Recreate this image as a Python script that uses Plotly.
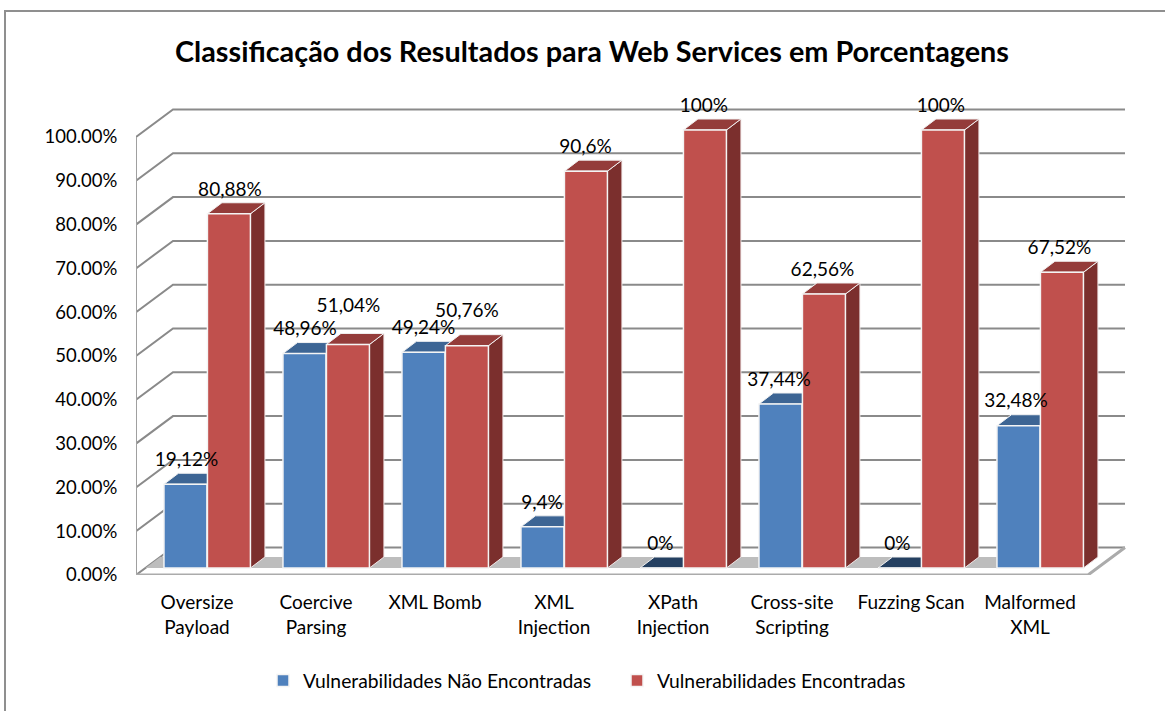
import plotly.graph_objects as go

# ---------- data ----------
categories = ["Oversize<br>Payload", "Coercive<br>Parsing", "XML Bomb", "XML<br>Injection",
              "XPath<br>Injection", "Cross-site<br>Scripting", "Fuzzing Scan", "Malformed<br>XML"]
nao_encontradas = [19.12, 48.96, 49.24, 9.4, 0, 37.44, 0, 32.48]
encontradas = [80.88, 51.04, 50.76, 90.6, 100, 62.56, 100, 67.52]
y_ticks = [0, 10, 20, 30, 40, 50, 60, 70, 80, 90, 100]
y_tick_labels = ["0.00%", "10.00%", "20.00%", "30.00%", "40.00%", "50.00%",
                 "60.00%", "70.00%", "80.00%", "90.00%", "100.00%"]
series_names = ["Vulnerabilidades Não Encontradas", "Vulnerabilidades Encontradas"]
title = "Classificação dos Resultados para Web Services em Porcentagens"

# ---------- layout geometry ----------
W, H = 1165, 711
LEFT, RIGHT, FLOOR, TOP = 136, 1130, 575, 80
PX_CAT, PX_PCT = 119.0, 4.38
FONT = "Lato"
WALL_DX, WALL_DY = 37 / PX_CAT, 27.5 / PX_PCT     # depth of the chart box
BAR_DX, BAR_DY = 14.5 / PX_CAT, 11 / PX_PCT       # depth of one bar
BAR_BASE = 7 / PX_PCT                             # bars stand a little behind the front edge
BAR_W = 43 / PX_CAT
SHIFT = [-0.0844, 0.2809]
COLORS = ["#4F81BD", "#C0504D"]
TOPS = ["#3D6594", "#943C3A"]
SIDES = ["#345478", "#7B2F2D"]
ZERO_TOP = "#254061"
GRID = "#8A8A8A"
X0 = -0.5
X1 = X0 + len(categories)

fig = go.Figure()

# back wall + left wall gridlines
gx, gy = [], []
for t in y_ticks:
    gx += [X0, X0 + WALL_DX, X1 + WALL_DX, None]
    gy += [t, t + WALL_DY, t + WALL_DY, None]
fig.add_trace(go.Scatter(x=gx, y=gy, mode="lines", line=dict(color=GRID, width=2), hoverinfo="skip",
                         showlegend=False, cliponaxis=False, zorder=0))
# left wall vertical edge
fig.add_trace(go.Scatter(x=[X0, X0], y=[y_ticks[0], y_ticks[-1]], mode="lines",
                         line=dict(color="#A0A0A0", width=2), hoverinfo="skip",
                         showlegend=False, cliponaxis=False, zorder=0))
# floor outline
fig.add_trace(go.Scatter(x=[X0, X1, X1 + WALL_DX], y=[0, 0, WALL_DY], mode="lines",
                         line=dict(color="#ABABAB", width=3), hoverinfo="skip",
                         showlegend=False, cliponaxis=False, zorder=0))
# shadow band on the floor
band_end = len(categories) - 1 + SHIFT[1] + BAR_W / 2
d1, d2 = BAR_BASE / WALL_DY, (BAR_BASE + BAR_DY) / WALL_DY
fig.add_trace(go.Scatter(x=[X0 + d1 * WALL_DX, band_end, band_end + BAR_DX, X0 + d2 * WALL_DX, X0 + d1 * WALL_DX],
                         y=[BAR_BASE, BAR_BASE, BAR_BASE + BAR_DY, BAR_BASE + BAR_DY, BAR_BASE],
                         mode="lines", fill="toself", fillcolor="#BDBDBD", line=dict(width=0),
                         hoverinfo="skip", showlegend=False, zorder=1))

for s, vals in enumerate([nao_encontradas, encontradas]):
    z = 2 + 2 * s
    xs = [i + SHIFT[s] for i in range(len(categories))]
    for x, v in zip(xs, vals):
        l, r = x - BAR_W / 2, x + BAR_W / 2
        t = v + BAR_BASE
        # side face
        fig.add_trace(go.Scatter(x=[r, r + BAR_DX, r + BAR_DX, r, r],
                                 y=[BAR_BASE, BAR_BASE + BAR_DY, t + BAR_DY, t, BAR_BASE],
                                 mode="lines", fill="toself", fillcolor=SIDES[s],
                                 line=dict(color="#F2E9E9", width=1), hoverinfo="skip",
                                 showlegend=False, zorder=z))
        # top face
        fig.add_trace(go.Scatter(x=[l, r, r + BAR_DX, l + BAR_DX, l],
                                 y=[t, t, t + BAR_DY, t + BAR_DY, t],
                                 mode="lines", fill="toself",
                                 fillcolor=ZERO_TOP if v == 0 else TOPS[s],
                                 line=dict(color="#F2F2F2", width=1), hoverinfo="skip",
                                 showlegend=False, zorder=z))
    # front faces
    fig.add_trace(go.Bar(x=xs, y=vals, base=BAR_BASE, width=BAR_W, name=series_names[s],
                         marker=dict(color=COLORS[s], line=dict(color="#F4F4F4", width=1.5)),
                         zorder=z + 1))

# data labels
red_lift = {1: 37, 2: 33}
for s, vals in enumerate([nao_encontradas, encontradas]):
    xs, ys, texts = [], [], []
    for i, v in enumerate(vals):
        lift = red_lift.get(i, 23) if s == 1 else 23
        xs.append(i + SHIFT[s] + (1 - 0.5 * i) / PX_CAT)
        ys.append(v + BAR_BASE + lift / PX_PCT)
        texts.append(f"{v:g}%".replace(".", ","))
    fig.add_trace(go.Scatter(x=xs, y=ys, text=texts, mode="text", textposition="middle center",
                             textfont=dict(family=FONT, size=19, color="#000000"), hoverinfo="skip",
                             showlegend=False, cliponaxis=False, zorder=9))

fig.update_layout(
    width=W, height=H,
    margin=dict(l=0, r=0, t=0, b=0, autoexpand=False),
    paper_bgcolor="white", plot_bgcolor="white",
    barmode="overlay",
    font=dict(family=FONT, size=19, color="#000000"),
    title=dict(text=f"<b>{title}</b>", x=592 / W, xanchor="center", y=1 - 52 / H, yanchor="middle",
               font=dict(family=FONT, size=28.8, color="#000000")),
    xaxis=dict(domain=[LEFT / W, RIGHT / W], range=[X0, X0 + (RIGHT - LEFT) / PX_CAT],
               tickvals=[i + 1.5 / PX_CAT for i in range(len(categories))], ticktext=categories,
               ticks="outside", ticklen=10, tickcolor="rgba(0,0,0,0)", showgrid=False, zeroline=False,
               showline=False, tickfont=dict(family=FONT, size=19)),
    yaxis=dict(domain=[1 - FLOOR / H, 1 - TOP / H], range=[0, (FLOOR - TOP) / PX_PCT],
               tickvals=y_ticks, ticktext=y_tick_labels, ticks="outside",
               ticklen=14, tickcolor="rgba(0,0,0,0)", showgrid=False, zeroline=False, showline=False,
               tickfont=dict(family=FONT, size=18.5)),
    legend=dict(orientation="h", x=263 / W, xanchor="left", y=1 - 681 / H, yanchor="middle",
                entrywidth=349 - 40, entrywidthmode="pixels", font=dict(family=FONT, size=19.3),
                bgcolor="rgba(0,0,0,0)", traceorder="normal"),
    shapes=[dict(type="path", xref="paper", yref="paper",
                 path=f"M {5 / W} 0 L {5 / W} {1 - 11 / H} L 1 {1 - 11 / H}",
                 line=dict(color="#8F8F8F", width=2))],
)

fig.write_html("out.html", post_script="document.body.style.margin='0';",
               config=dict(displayModeBar=False))
